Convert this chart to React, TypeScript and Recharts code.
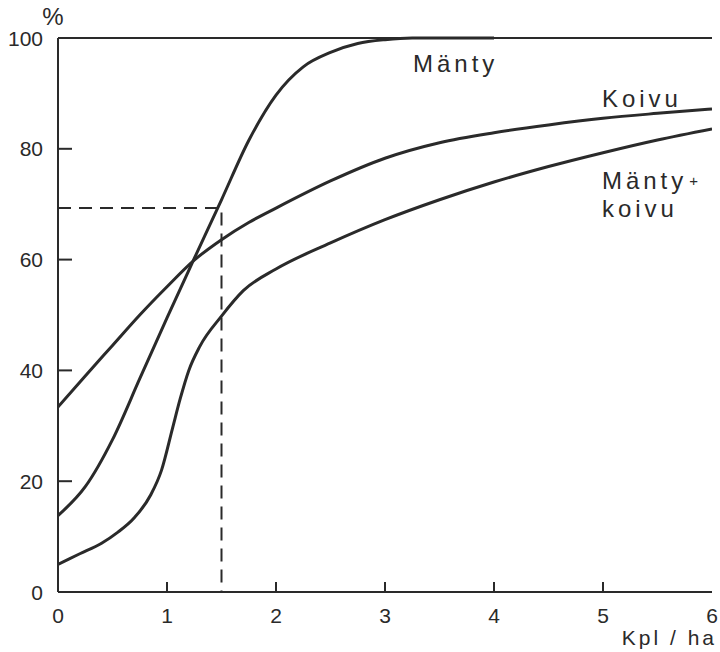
import React from "react";
import { LineChart, Line, XAxis, YAxis, ReferenceLine, ReferenceDot } from "recharts";

// Kpl/ha (x) and percentage (y) readings
const xTicks = [0, 1, 2, 3, 4, 5, 6];
const yTicks = [0, 20, 40, 60, 80, 100];

const mantyX = [0, 0.25, 0.5, 0.75, 1, 1.25, 1.5, 1.75, 2, 2.25, 2.5, 2.75, 3, 3.25, 3.5, 4];
const mantyY = [13.8, 19, 27.5, 38.5, 49.5, 60.2, 70.8, 81.5, 89.7, 94.8, 97.4, 99, 99.7, 100, 100, 100];

const koivuX = [0, 0.25, 0.5, 0.75, 1, 1.25, 1.5, 1.75, 2, 2.5, 3, 3.5, 4, 4.5, 5, 5.5, 6];
const koivuY = [33.4, 39, 44.5, 50, 55.1, 59.9, 63.6, 66.7, 69.3, 74.2, 78.3, 81.1, 82.9, 84.3, 85.5, 86.4, 87.2];

const mkX = [0, 0.2, 0.4, 0.55, 0.7, 0.85, 0.95, 1.05, 1.12, 1.2, 1.3, 1.5, 1.7, 2, 2.5, 3, 3.5, 4, 4.5, 5, 5.5, 6];
const mkY = [5, 6.9, 8.8, 10.8, 13.4, 17.5, 22, 29.5, 34.8, 40, 44.3, 49.8, 54.4, 58.3, 63, 67.2, 70.8, 74, 76.8, 79.3, 81.6, 83.6];

const dashX = [0, 1.5, 1.5];
const dashY = [69.3, 69.3, 0];

const toPoints = (xs: number[], ys: number[]) => xs.map((x, i) => ({ x, y: ys[i] }));

const INK = "#2a2a2a";
const FONT = "'Liberation Sans', Arial, sans-serif";

const XTick = (props: any) => {
  const { x, y, payload } = props;
  const v = payload.value;
  return (
    <g>
      {v > 0 && v < 6 && <line x1={x} y1={y} x2={x} y2={y - 10} stroke={INK} strokeWidth={2} />}
      <text x={x} y={y + 31} textAnchor="middle" fontFamily={FONT} fontSize={21} fill={INK}>
        {v}
      </text>
    </g>
  );
};

const YTickLeft = (props: any) => {
  const { x, y, payload } = props;
  const v = payload.value;
  return (
    <g>
      {v > 0 && v < 100 && <line x1={x} y1={y} x2={x + 14} y2={y} stroke={INK} strokeWidth={2} />}
      <text x={x - 15} y={y} dy="0.36em" textAnchor="end" fontFamily={FONT} fontSize={21} fill={INK}>
        {v}
      </text>
    </g>
  );
};

const YTickRight = (props: any) => {
  const { x, y, payload } = props;
  const v = payload.value;
  if (v <= 0 || v >= 100) return <g />;
  return <line x1={x} y1={y} x2={x - 10} y2={y} stroke={INK} strokeWidth={2} />;
};

const curveLabel = (main: string, extra?: string) => (props: any) => {
  const { x, y } = props.viewBox;
  return (
    <text x={x} y={y} fontFamily={FONT} fontSize={24} letterSpacing={4} fill={INK}>
      {main}
      {extra && <tspan fontSize={15} dx={2} dy={-3}>{extra}</tspan>}
    </text>
  );
};

export default function App() {
  return (
    <div style={{ position: "absolute", left: 0, top: 0 }}>
      <LineChart width={720} height={652} margin={{ top: 38, right: 8, bottom: 30, left: 0 }}>
        <XAxis
          dataKey="x"
          type="number"
          domain={[0, 6]}
          ticks={xTicks}
          allowDataOverflow
          height={30}
          tickSize={0}
          tickMargin={0}
          tickLine={false}
          axisLine={{ stroke: INK, strokeWidth: 2 }}
          tick={<XTick />}
          interval={0}
          label={{
            content: (p: any) => (
              <text
                x={p.viewBox.x + p.viewBox.width + 5}
                y={p.viewBox.y + 53}
                textAnchor="end"
                fontFamily={FONT}
                fontSize={21}
                letterSpacing={3}
                fill={INK}
              >
                Kpl / ha
              </text>
            ),
          }}
        />
        <YAxis
          type="number"
          domain={[0, 100]}
          ticks={yTicks}
          width={58}
          tickSize={0}
          tickMargin={0}
          tickLine={false}
          axisLine={{ stroke: INK, strokeWidth: 2 }}
          tick={<YTickLeft />}
          interval={0}
          label={{
            content: (p: any) => (
              <text x={p.viewBox.x + 53} y={p.viewBox.y - 13} textAnchor="middle" fontFamily={FONT} fontSize={24} fill={INK}>
                %
              </text>
            ),
          }}
        />
        <YAxis
          yAxisId="r"
          orientation="right"
          type="number"
          domain={[0, 100]}
          ticks={yTicks}
          width={0}
          tickSize={0}
          tickMargin={0}
          tickLine={false}
          axisLine={{ stroke: INK, strokeWidth: 2 }}
          tick={<YTickRight />}
          interval={0}
        />
        <ReferenceLine y={100} stroke={INK} strokeWidth={2} />
        <Line
          data={toPoints(dashX, dashY)}
          dataKey="y"
          type="linear"
          stroke={INK}
          strokeWidth={2}
          strokeDasharray="13 8"
          dot={false}
          activeDot={false}
          isAnimationActive={false}
        />
        <Line
          data={toPoints(koivuX, koivuY)}
          dataKey="y"
          type="monotone"
          stroke={INK}
          strokeWidth={3}
          dot={false}
          activeDot={false}
          isAnimationActive={false}
        />
        <Line
          data={toPoints(mkX, mkY)}
          dataKey="y"
          type="monotone"
          stroke={INK}
          strokeWidth={3}
          dot={false}
          activeDot={false}
          isAnimationActive={false}
        />
        <Line
          data={toPoints(mantyX, mantyY)}
          dataKey="y"
          type="monotone"
          stroke={INK}
          strokeWidth={3}
          dot={false}
          activeDot={false}
          isAnimationActive={false}
        />
        <ReferenceDot x={3.257} y={93.85} r={0} stroke="none" fill="none" label={{ content: curveLabel("Mänty") }} />
        <ReferenceDot x={4.99} y={87.5} r={0} stroke="none" fill="none" label={{ content: curveLabel("Koivu") }} />
        <ReferenceDot x={4.99} y={72.7} r={0} stroke="none" fill="none" label={{ content: curveLabel("Mänty", "+") }} />
        <ReferenceDot x={4.99} y={67.6} r={0} stroke="none" fill="none" label={{ content: curveLabel("koivu") }} />
      </LineChart>
    </div>
  );
}
